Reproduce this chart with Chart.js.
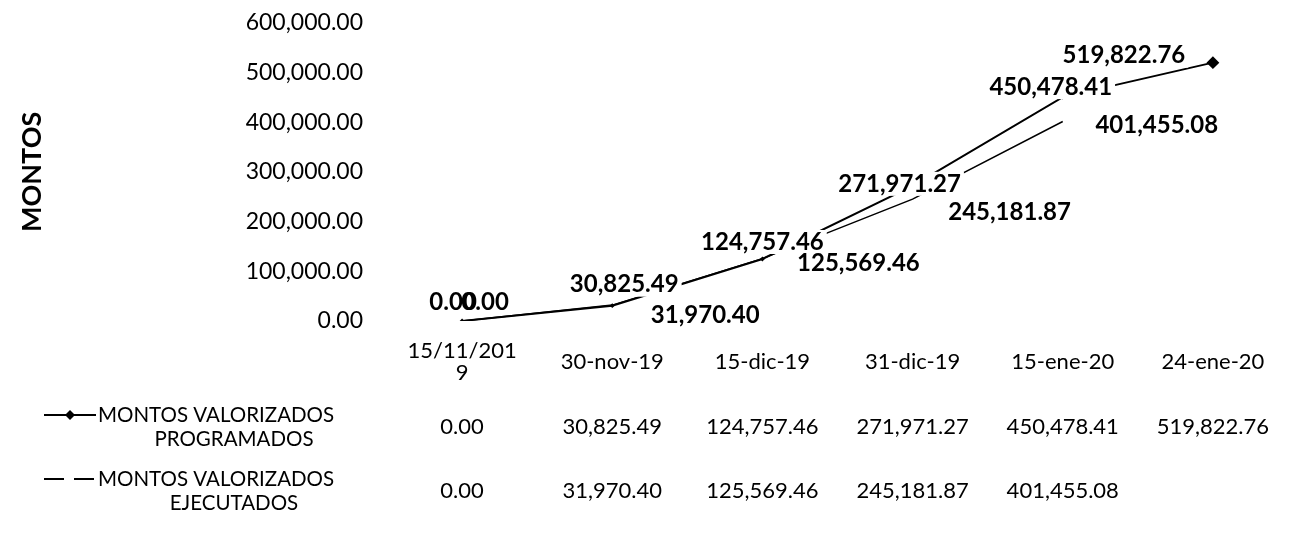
<!DOCTYPE html>
<html>
<head>
<meta charset="utf-8">
<script src="https://cdn.jsdelivr.net/npm/chart.js@4/dist/chart.umd.min.js"></script>
<style>
  html, body { margin: 0; padding: 0; background: #ffffff; }
  #wrap { position: relative; width: 1295px; height: 535px; }
</style>
</head>
<body>
<div id="wrap"><canvas id="c" width="1295" height="535"></canvas></div>
<script>
// ---------- DATA ----------
const categories = [['15/11/201', '9'], '30-nov-19', '15-dic-19', '31-dic-19', '15-ene-20', '24-ene-20'];
const programados = [0.00, 30825.49, 124757.46, 271971.27, 450478.41, 519822.76];
const ejecutados = [0.00, 31970.40, 125569.46, 245181.87, 401455.08, null];
const seriesProgramados = ['MONTOS VALORIZADOS', 'PROGRAMADOS'];
const seriesEjecutados = ['MONTOS VALORIZADOS', 'EJECUTADOS'];
const yTickValues = [0, 100000, 200000, 300000, 400000, 500000, 600000];
const yTitle = 'MONTOS';

// ---------- STYLE ----------
const FONT = 'Lato, "Open Sans", sans-serif';
const fmt = v => v.toLocaleString('en-US', { minimumFractionDigits: 2, maximumFractionDigits: 2 });
// label offsets (pixels, relative to the point) as placed in the original chart
const labelOffsets = [
  [[-9, -19], [12, -21], [0, -17], [-13, -2], [-12, -10], [-89, -7]],
  [[23, -19], [93, 10], [96, 5], [97, 13], [94, 4], [0, 0]]
];
const CHART_LEFT = 387, CHART_BOTTOM = 321, PAD_LEFT = 16;

const dataLabelPlugin = {
  id: 'dataLabels',
  afterDatasetsDraw(chart) {
    const ctx = chart.ctx;
    ctx.save();
    ctx.font = 'bold 24px ' + FONT;
    ctx.textAlign = 'center';
    ctx.textBaseline = 'middle';
    const items = [];
    chart.data.datasets.forEach((ds, di) => {
      const meta = chart.getDatasetMeta(di);
      meta.data.forEach((pt, i) => {
        const v = ds.data[i];
        if (v === null || v === undefined) return;
        const off = labelOffsets[di][i];
        items.push({ x: pt.x + off[0], y: pt.y + off[1], t: fmt(v) });
      });
    });
    ctx.fillStyle = '#ffffff';
    items.forEach(it => {
      const w = ctx.measureText(it.t).width;
      ctx.fillRect(it.x - w / 2 - 3, it.y - 12, w + 6, 24);
    });
    ctx.fillStyle = '#000000';
    items.forEach(it => ctx.fillText(it.t, it.x, it.y));
    ctx.restore();
  }
};

const tablePlugin = {
  id: 'dataTable',
  afterDraw(chart) {
    const ctx = chart.ctx;
    const xs = chart.scales.x;
    const rows = [
      { names: seriesProgramados, values: programados, y: 427, ds: 0 },
      { names: seriesEjecutados, values: ejecutados, y: 491, ds: 1 }
    ];
    ctx.save();
    ctx.fillStyle = '#000000';
    ctx.strokeStyle = '#000000';
    ctx.textBaseline = 'middle';
    rows.forEach(r => {
      const ds = chart.data.datasets[r.ds];
      const y1 = r.y - 12, y2 = r.y + 12;
      // legend key
      ctx.lineWidth = 2;
      ctx.setLineDash(ds.borderDash || []);
      ctx.beginPath();
      ctx.moveTo(44, y1);
      ctx.lineTo(96, y1);
      ctx.stroke();
      ctx.setLineDash([]);
      if (r.ds === 0) {
        ctx.beginPath();
        ctx.moveTo(70, y1 - 5); ctx.lineTo(75, y1); ctx.lineTo(70, y1 + 5); ctx.lineTo(65, y1);
        ctx.closePath();
        ctx.fill();
      }
      ctx.font = '20.5px ' + FONT;
      ctx.textAlign = 'left';
      ctx.fillText(r.names[0], 98, y1);
      ctx.textAlign = 'center';
      ctx.fillText(r.names[1], 234, y2);
      ctx.font = '22px ' + FONT;
      r.values.forEach((v, i) => {
        if (v === null || v === undefined) return;
        ctx.fillText(fmt(v), xs.getPixelForValue(i), r.y);
      });
    });
    ctx.restore();
  }
};

new Chart(document.getElementById('c'), {
  type: 'line',
  data: {
    labels: categories,
    datasets: [
      {
        label: seriesProgramados.join(' '),
        data: programados,
        borderColor: '#000000',
        backgroundColor: '#000000',
        borderWidth: 2,
        pointStyle: 'rectRot',
        pointRadius: ctx => (ctx.dataIndex === programados.length - 1 ? 5 : 1),
        pointBackgroundColor: '#000000',
        tension: 0
      },
      {
        label: seriesEjecutados.join(' '),
        data: ejecutados,
        borderColor: '#000000',
        backgroundColor: '#000000',
        borderWidth: 1.5,
        borderDash: [20, 10],
        pointRadius: 0,
        tension: 0,
        segment: { borderDash: () => [] }
      }
    ]
  },
  options: {
    responsive: false,
    animation: false,
    devicePixelRatio: 1,
    layout: { padding: { left: PAD_LEFT, top: 7, right: 3, bottom: 0 } },
    plugins: { legend: { display: false }, tooltip: { enabled: false } },
    scales: {
      x: {
        type: 'category',
        offset: true,
        grid: { display: false, drawTicks: false },
        border: { display: false },
        ticks: {
          font: { family: FONT, size: 22, lineHeight: 1.0 },
          color: '#000000',
          padding: 30,
          crossAlign: 'center',
          maxRotation: 0,
          autoSkip: false
        },
        afterFit: s => { s.height = 535 - CHART_BOTTOM; }
      },
      y: {
        min: 0,
        max: 600000,
        afterBuildTicks: s => { s.ticks = yTickValues.map(v => ({ value: v })); },
        grid: { display: false, drawTicks: true, tickLength: 15 },
        border: { display: false },
        ticks: {
          font: { family: FONT, size: 23 },
          color: '#000000',
          padding: 9,
          callback: v => fmt(v)
        },
        title: {
          display: true,
          text: yTitle,
          color: '#000000',
          font: { family: FONT, size: 27, weight: 'bold' },
          padding: { top: 0, bottom: 0 }
        },
        afterFit: s => { s.width = CHART_LEFT - PAD_LEFT; }
      }
    }
  },
  plugins: [dataLabelPlugin, tablePlugin]
});
</script>
</body>
</html>
